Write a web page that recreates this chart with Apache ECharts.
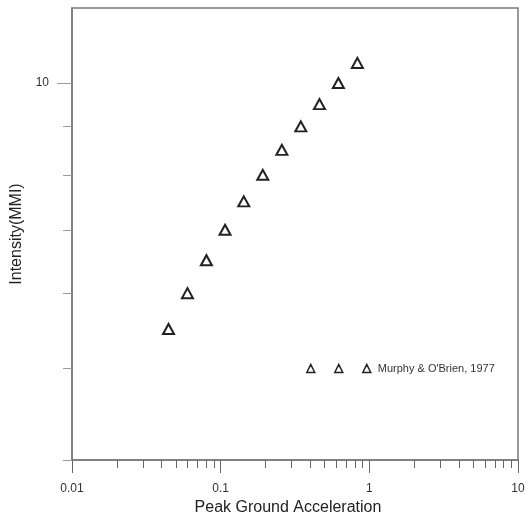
<!DOCTYPE html>
<html>
<head>
<meta charset="utf-8">
<script src="https://cdn.jsdelivr.net/npm/echarts@6/dist/echarts.min.js"></script>
<style>
html, body { margin: 0; padding: 0; background: #fff; }
#main { width: 529px; height: 515px; }
</style>
</head>
<body>
<div id="main"></div>
<script>
// data
var pga = [0.0446, 0.0598, 0.0802, 0.107, 0.143, 0.192, 0.258, 0.346, 0.462, 0.619, 0.831];
var intensity = [5.5, 6, 6.5, 7, 7.5, 8, 8.5, 9, 9.5, 10, 10.5];
var seriesName = "Murphy & O'Brien, 1977";

var xMajor = [0.01, 0.1, 1, 10];
var xMinor = [0.02, 0.03, 0.04, 0.05, 0.06, 0.07, 0.08, 0.09,
	0.2, 0.3, 0.4, 0.5, 0.6, 0.7, 0.8, 0.9,
	2, 3, 4, 5, 6, 7, 8, 9];
var yMajor = [10];
var yMinor = [4, 5, 6, 7, 8, 9];

var font = 'Liberation Sans, Arial, sans-serif';
var axisColor = '#7a7a7a';
var tickColor = '#999';

var points = pga.map(function (v, i) { return [v, intensity[i]]; });

var myChart = echarts.init(document.getElementById('main'));
var option = {
	backgroundColor: '#fff',
	animation: false,
	grid: {
		left: 72,
		right: 11,
		top: 8,
		bottom: 55,
		show: true,
		borderColor: axisColor,
		borderWidth: 1.5,
		outerBoundsMode: 'none'
	},
	legend: {
		left: 306,
		top: 363,
		padding: 0,
		itemWidth: 64,
		itemHeight: 8,
		icon: 'path://M0,8L4,0L8,8Z M28,8L32,0L36,8Z M56,8L60,0L64,8Z',
		itemStyle: { color: '#fff', borderColor: '#222', borderWidth: 1.5 },
		textStyle: { fontFamily: font, fontSize: 11, color: '#333', padding: [0, 0, 0, 2] },
		data: [seriesName]
	},
	xAxis: [{
		type: 'log',
		min: 0.01,
		max: 10,
		name: 'Peak Ground Acceleration',
		nameLocation: 'middle',
		nameGap: 35,
		nameTextStyle: { fontFamily: font, fontSize: 16, color: '#222', padding: [0, 14, 0, 0] },
		axisLine: { lineStyle: { color: axisColor, width: 1.5 } },
		axisTick: { length: 13, lineStyle: { color: '#666' }, customValues: xMajor },
		axisLabel: { margin: 23, fontFamily: font, fontSize: 12, color: '#333', customValues: xMajor },
		splitLine: { show: false }
	}, {
		type: 'log',
		min: 0.01,
		max: 10,
		position: 'bottom',
		axisLine: { show: false },
		axisTick: { length: 8, lineStyle: { color: '#666' }, customValues: xMinor },
		axisLabel: { show: false },
		splitLine: { show: false }
	}],
	yAxis: [{
		type: 'log',
		min: 4,
		max: 12,
		name: 'Intensity(MMI)',
		nameLocation: 'middle',
		nameGap: 43,
		nameTextStyle: { fontFamily: font, fontSize: 16, color: '#222' },
		axisLine: { lineStyle: { color: axisColor, width: 1.5 } },
		axisTick: { length: 15, lineStyle: { color: tickColor }, customValues: yMajor },
		axisLabel: { margin: 23, fontFamily: font, fontSize: 12, color: '#333', customValues: yMajor },
		splitLine: { show: false }
	}, {
		type: 'log',
		min: 4,
		max: 12,
		position: 'left',
		axisLine: { show: false },
		axisTick: { length: 9, lineStyle: { color: tickColor }, customValues: yMinor },
		axisLabel: { show: false },
		splitLine: { show: false }
	}],
	series: [{
		name: seriesName,
		type: 'scatter',
		xAxisIndex: 0,
		yAxisIndex: 0,
		symbol: 'triangle',
		symbolSize: [11, 10],
		itemStyle: { color: '#fff', borderColor: '#222', borderWidth: 2, opacity: 1 },
		data: points
	}]
};
myChart.setOption(option);
</script>
</body>
</html>
